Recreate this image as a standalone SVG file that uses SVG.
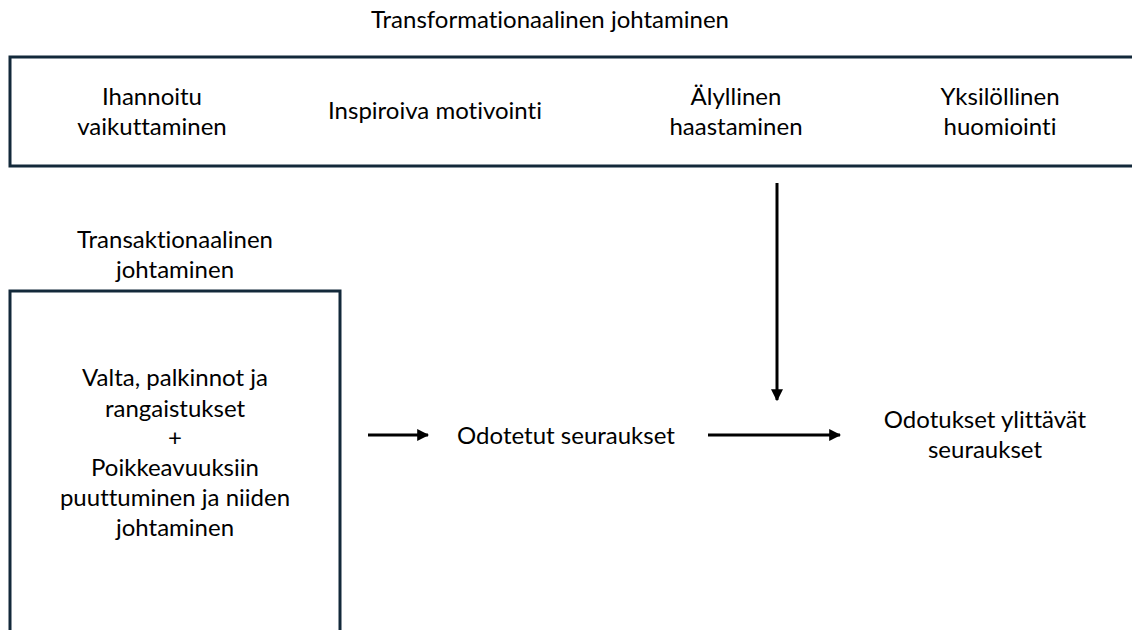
<svg xmlns="http://www.w3.org/2000/svg" width="1132" height="630" viewBox="0 0 1132 630">
<style>
text{font-family:Lato,"Open Sans","Liberation Sans",sans-serif;font-size:24px;fill:#000;text-anchor:middle;font-variant-ligatures:none}
.box{fill:#fff;stroke:#13293a;stroke-width:3}
.conn{stroke:#000;stroke-width:3;fill:none}
</style>
<defs>
<marker id="ah" viewBox="0 0 10 10" refX="9" refY="5" markerWidth="4" markerHeight="4" orient="auto" markerUnits="strokeWidth">
<path d="M0,0 L10,5 L0,10 z" fill="#000"/>
</marker>
</defs>
<rect width="1132" height="630" fill="#fff"/>
<g id="title"><text x="550" y="28">Transformationaalinen johtaminen</text></g>
<g id="transformational">
<rect class="box" x="10" y="57" width="1130" height="109"/>
<text x="152" y="105">Ihannoitu</text>
<text x="152" y="135">vaikuttaminen</text>
<text x="435" y="119">Inspiroiva motivointi</text>
<text x="736" y="105">Älyllinen</text>
<text x="736" y="135">haastaminen</text>
<text x="1000" y="105">Yksilöllinen</text>
<text x="1000" y="135">huomiointi</text>
</g>
<g id="transactional-label">
<text x="175" y="248">Transaktionaalinen</text>
<text x="175" y="278">johtaminen</text>
</g>
<g id="transactional">
<rect class="box" x="10" y="291" width="330" height="360"/>
<text x="175" y="386">Valta, palkinnot ja</text>
<text x="175" y="417">rangaistukset</text>
<text x="175" y="446">+</text>
<text x="175" y="476">Poikkeavuuksiin</text>
<text x="175" y="506">puuttuminen ja niiden</text>
<text x="175" y="536">johtaminen</text>
</g>
<g id="expected"><text x="566" y="444">Odotetut seuraukset</text></g>
<g id="exceeding">
<text x="985" y="428">Odotukset ylittävät</text>
<text x="985" y="458">seuraukset</text>
</g>
<g id="connectors">
<line class="conn" x1="368" y1="435" x2="428" y2="435" marker-end="url(#ah)"/>
<line class="conn" x1="708" y1="435" x2="840" y2="435" marker-end="url(#ah)"/>
<line class="conn" x1="777" y1="183" x2="777" y2="400" marker-end="url(#ah)"/>
</g>
</svg>
